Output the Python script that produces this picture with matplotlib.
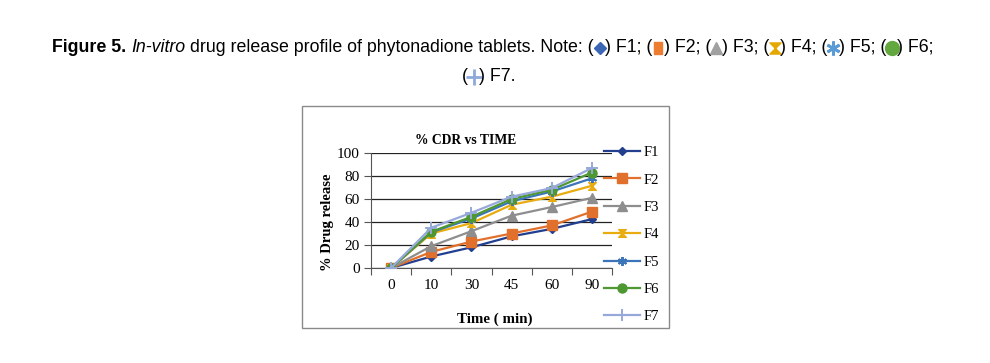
import matplotlib
matplotlib.use('Agg')
import matplotlib.pyplot as plt
from matplotlib.lines import Line2D
from matplotlib.path import Path
from matplotlib.patches import Rectangle
from matplotlib.transforms import IdentityTransform
import numpy as np

# ---------------- data ----------------
times = ['0', '10', '30', '45', '60', '90']
series_names = ['F1', 'F2', 'F3', 'F4', 'F5', 'F6', 'F7']
F1 = [0, 10, 18, 27.5, 34, 42.5]
F2 = [0, 14, 23, 30, 37, 49]
F3 = [0, 19, 32, 45.5, 53, 61]
F4 = [0, 30, 39, 55, 62, 71.5]
F5 = [0, 31, 43, 58, 66.5, 78]
F6 = [0, 31.5, 44.5, 60, 68, 83]
F7 = [0, 35, 48, 62, 69.5, 87]
y_ticks = [0, 20, 40, 60, 80, 100]

W, H = 990, 363
hourglass = Path([(-1, 1), (1, 1), (-1, -1), (1, -1), (-1, 1)],
                 [Path.MOVETO, Path.LINETO, Path.LINETO, Path.LINETO, Path.CLOSEPOLY])

colors = ['#213F8E', '#E0702C', '#8E8E8E', '#E8AC10', '#3B74B9', '#4E9832', '#97A9DA']
markers = ['D', 's', '^', hourglass, (6, 2, 0), 'o', '+']
msizes = [4, 6.5, 6.5, 5.5, 6.5, 6.5, 8.5]
values = [F1, F2, F3, F4, F5, F6, F7]

fig = plt.figure(figsize=(W / 100, H / 100), dpi=100)

# chart frame
fig.add_artist(Rectangle((302 / W, 1 - 328 / H), (669 - 302) / W, (328 - 106) / H,
                         transform=fig.transFigure, fill=False, edgecolor='#8a8a8a', lw=1))

ax = fig.add_axes([371 / W, 1 - 268 / H, (612 - 371) / W, (268 - 153) / H])
x = np.arange(len(times)) + 0.5
handles = []
for name, vals, c, m, ms in zip(series_names, values, colors, markers, msizes):
    h, = ax.plot(x, vals, color=c, lw=1.6, marker=m, ms=ms, mew=1.4 if m in ('+', (6, 2, 0)) else 1,
                 mfc=c, mec=c, label=name, zorder=3)
    handles.append(h)

ax.set_xlim(0, len(times))
ax.set_ylim(0, 100)
ax.set_yticks(y_ticks)
ax.set_yticklabels([str(v) for v in y_ticks], family='Liberation Serif', fontsize=11)
ax.set_xticks(np.arange(len(times) + 1))
ax.set_xticklabels([])
ax.set_xticks(x, minor=True)
ax.set_xticklabels(times, minor=True, family='Liberation Serif', fontsize=11)
ax.tick_params(axis='x', which='minor', length=0, pad=8)
ax.tick_params(axis='x', which='major', length=5, direction='out', color='#555555')
ax.tick_params(axis='y', length=5, direction='out', color='#555555', pad=3)
for s in ['top', 'right']:
    ax.spines[s].set_visible(False)
ax.spines['left'].set_color('#555555')
ax.spines['bottom'].set_color('#555555')
ax.grid(axis='y', color='#222222', lw=0.9)
ax.set_axisbelow(True)
ax.patch.set_alpha(0)

fig.text(466 / W, 1 - 140 / H, '% CDR vs TIME', family='Liberation Serif', weight='bold',
         fontsize=9.8, ha='center', va='center')
fig.text(328 / W, 1 - 222 / H, '% Drug release', family='Liberation Serif', weight='bold',
         fontsize=10.5, rotation=90, ha='center', va='center')
fig.text(495 / W, 1 - 319 / H, 'Time ( min)', family='Liberation Serif', weight='bold',
         fontsize=10.8, ha='center', va='center')

leg = fig.legend(handles=handles, loc='upper left', bbox_to_anchor=(604 / W, 1 - 146 / H),
                 frameon=False, prop={'family': 'Liberation Serif', 'size': 10.5},
                 handlelength=2.5, handletextpad=0.2, labelspacing=0.97, borderpad=0,
                 borderaxespad=0)

# ---------------- caption ----------------
renderer = fig.canvas.get_renderer()
ident = IdentityTransform()
cap_family = ['Liberation Sans']
cap_size = 12.8
base = dict(family=cap_family, fontsize=cap_size)


def measure(text, props):
    t = fig.text(0, 0, text, transform=ident, **props)
    w = t.get_window_extent(renderer).width
    t.remove()
    return w


sp_w = measure('x x', base) - measure('xx', base)
cap_markers = {
    'F1': ('D', '#3B67B5', 6),
    'F2': ('s', '#ED7D31', 9),
    'F3': ('^', '#A0A0A0', 9),
    'F4': (hourglass, '#E5A800', 8),
    'F5': ((6, 2, 0), '#5B9BD5', 10),
    'F6': ('o', '#62A83E', 10),
    'F7': ('+', '#8EA9DB', 11),
}
MW = 11


def draw_line(pieces, baseline, cx):
    widths = []
    for kind, content, props in pieces:
        if kind == 't':
            widths.append(measure(content, props))
        elif kind == 's':
            widths.append(sp_w)
        else:
            widths.append(MW)
    xpos = cx - sum(widths) / 2
    for (kind, content, props), w in zip(pieces, widths):
        if kind == 't':
            fig.text(xpos, baseline, content, transform=ident, va='baseline', ha='left', **props)
        elif kind == 'm':
            m, c, ms = cap_markers[content]
            ln = Line2D([xpos + w / 2], [baseline + 4.5], transform=ident, marker=m, ms=ms,
                        color=c, mfc=c, mec=c, mew=2 if m in ('+', (6, 2, 0)) else 1, ls='none')
            if content == 'F2':
                ln.set_marker(Path([(-0.6, 1), (0.6, 1), (0.6, -1), (-0.6, -1), (-0.6, 1)],
                                   [1, 2, 2, 2, 79]))
            fig.add_artist(ln)
        xpos += w


bold = dict(base, weight='bold')
ital = dict(base, style='italic')
line1 = [('t', 'Figure 5.', bold), ('s', None, None), ('t', 'In-vitro', ital), ('s', None, None),
         ('t', 'drug release profile of phytonadione tablets. Note: (', base)]
for i, n in enumerate(series_names[:-1]):
    line1.append(('m', n, None))
    line1.append(('t', ') %s;%s' % (n, ' (' if i < 5 else ''), base))
line2 = [('t', '(', base), ('m', 'F7', None), ('t', ') F7.', base)]
draw_line(line1, H - 52, 493)
draw_line(line2, H - 81, 489)

fig.savefig('out.png', dpi=100)
